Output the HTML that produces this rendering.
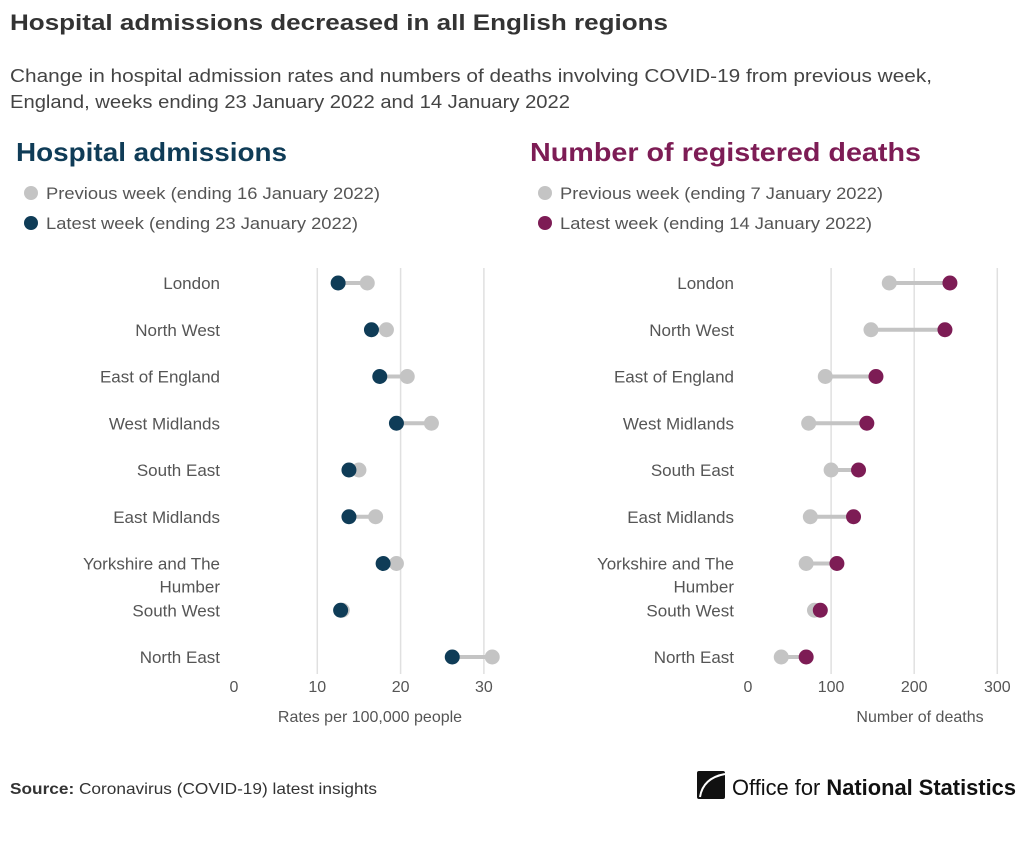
<!DOCTYPE html>
<html><head><meta charset="utf-8"><style>
body{margin:0;width:1024px;height:836px;background:#fff;font-family:"Liberation Sans",sans-serif;overflow:hidden}
svg text{font-family:"Liberation Sans",sans-serif}
</style></head><body>
<svg id="c" width="1024" height="836">
<text x="10" y="30" font-size="22" font-weight="bold" fill="#333" textLength="658" lengthAdjust="spacingAndGlyphs">Hospital admissions decreased in all English regions</text>
<text x="10" y="82" font-size="18" fill="#444" textLength="922" lengthAdjust="spacingAndGlyphs">Change in hospital admission rates and numbers of deaths involving COVID-19 from previous week,</text>
<text x="10" y="108" font-size="18" fill="#444" textLength="560" lengthAdjust="spacingAndGlyphs">England, weeks ending 23 January 2022 and 14 January 2022</text>
<text x="16" y="161" font-size="26" font-weight="bold" fill="#0f3c57" textLength="271" lengthAdjust="spacingAndGlyphs">Hospital admissions</text>
<text x="530" y="161" font-size="26" font-weight="bold" fill="#7d1c55" textLength="391" lengthAdjust="spacingAndGlyphs">Number of registered deaths</text>
<g>
<circle cx="31" cy="193" r="7" fill="#c4c4c4"/><text x="46" y="199" font-size="17" fill="#555" textLength="334" lengthAdjust="spacingAndGlyphs">Previous week (ending 16 January 2022)</text>
<circle cx="31" cy="223" r="7" fill="#0f3c57"/><text x="46" y="229" font-size="17" fill="#555" textLength="312" lengthAdjust="spacingAndGlyphs">Latest week (ending 23 January 2022)</text>
</g>
<g>
<circle cx="545" cy="193" r="7" fill="#c4c4c4"/><text x="560" y="199" font-size="17" fill="#555" textLength="323" lengthAdjust="spacingAndGlyphs">Previous week (ending 7 January 2022)</text>
<circle cx="545" cy="223" r="7" fill="#7d1c55"/><text x="560" y="229" font-size="17" fill="#555" textLength="312" lengthAdjust="spacingAndGlyphs">Latest week (ending 14 January 2022)</text>
</g>
<text x="10" y="794" font-size="16" fill="#333" textLength="367" lengthAdjust="spacingAndGlyphs"><tspan font-weight="bold">Source:</tspan> Coronavirus (COVID-19) latest insights</text>
<g>
<rect x="697" y="771" width="28" height="28" rx="2" fill="#111"/>
<path d="M725 774 Q703 778 700 797" stroke="#fff" stroke-width="2" fill="none"/>
<text x="732" y="795" font-size="22" fill="#111" textLength="284" lengthAdjust="spacingAndGlyphs">Office for <tspan font-weight="bold">National Statistics</tspan></text>
</g>
</svg>
<script>
const regions=["London","North West","East of England","West Midlands","South East","East Midlands","Yorkshire and The|Humber","South West","North East"];
const admPrev=[16,18.3,20.8,23.7,15,17,19.5,13,31];
const admLatest=[12.5,16.5,17.5,19.5,13.8,13.8,17.9,12.8,26.2];
const admTicks=[0,10,20,30];
const deathPrev=[170,148,93,73,100,75,70,80,40];
const deathLatest=[243,237,154,143,133,127,107,87,70];
const deathTicks=[0,100,200,300];
const svg=document.getElementById('c');
const NS='http://www.w3.org/2000/svg';
function mk(t,a,txt){const e=document.createElementNS(NS,t);for(const k in a)e.setAttribute(k,a[k]);if(txt!==undefined)e.textContent=txt;svg.appendChild(e);return e;}
const yRow=i=>283+i*46.75;
function panel(x0,pxPer,ticks,prev,latest,col,axisTitle,titleX,key){
  const x=v=>x0+v*pxPer;
  ticks.forEach(t=>{
    if(t>0){const g=mk('line',{x1:x(t),x2:x(t),y1:268,y2:674,stroke:'#e0e0e0','stroke-width':1.5});
    
    }
    const l=mk('text',{x:x(t),y:692,'font-size':16,fill:'#555','text-anchor':'middle'},t);
    
    
  });
  const at=mk('text',{x:titleX,y:722,'font-size':16,fill:'#555','text-anchor':'middle'},axisTitle);
  
  
  regions.forEach((r,i)=>{
    const y=yRow(i);
    const parts=r.split('|');
    parts.forEach((p,j)=>{
      const t=mk('text',{x:x0-14,y:y+6+j*23,'font-size':17,fill:'#555','text-anchor':'end'},p);
      
      
    });
    const ln=mk('line',{x1:x(prev[i]),x2:x(latest[i]),y1:y,y2:y,stroke:'#c4c4c4','stroke-width':4});
    
    
    const c1=mk('circle',{cx:x(prev[i]),cy:y,r:7.5,fill:'#c4c4c4'});
    
    
    const c2=mk('circle',{cx:x(latest[i]),cy:y,r:7.5,fill:col});
    
    
  });
}
panel(234,8.33,admTicks,admPrev,admLatest,'#0f3c57','Rates per 100,000 people',370,'admissions');
panel(748,0.831,deathTicks,deathPrev,deathLatest,'#7d1c55','Number of deaths',920,'deaths');
</script>
</body></html>
